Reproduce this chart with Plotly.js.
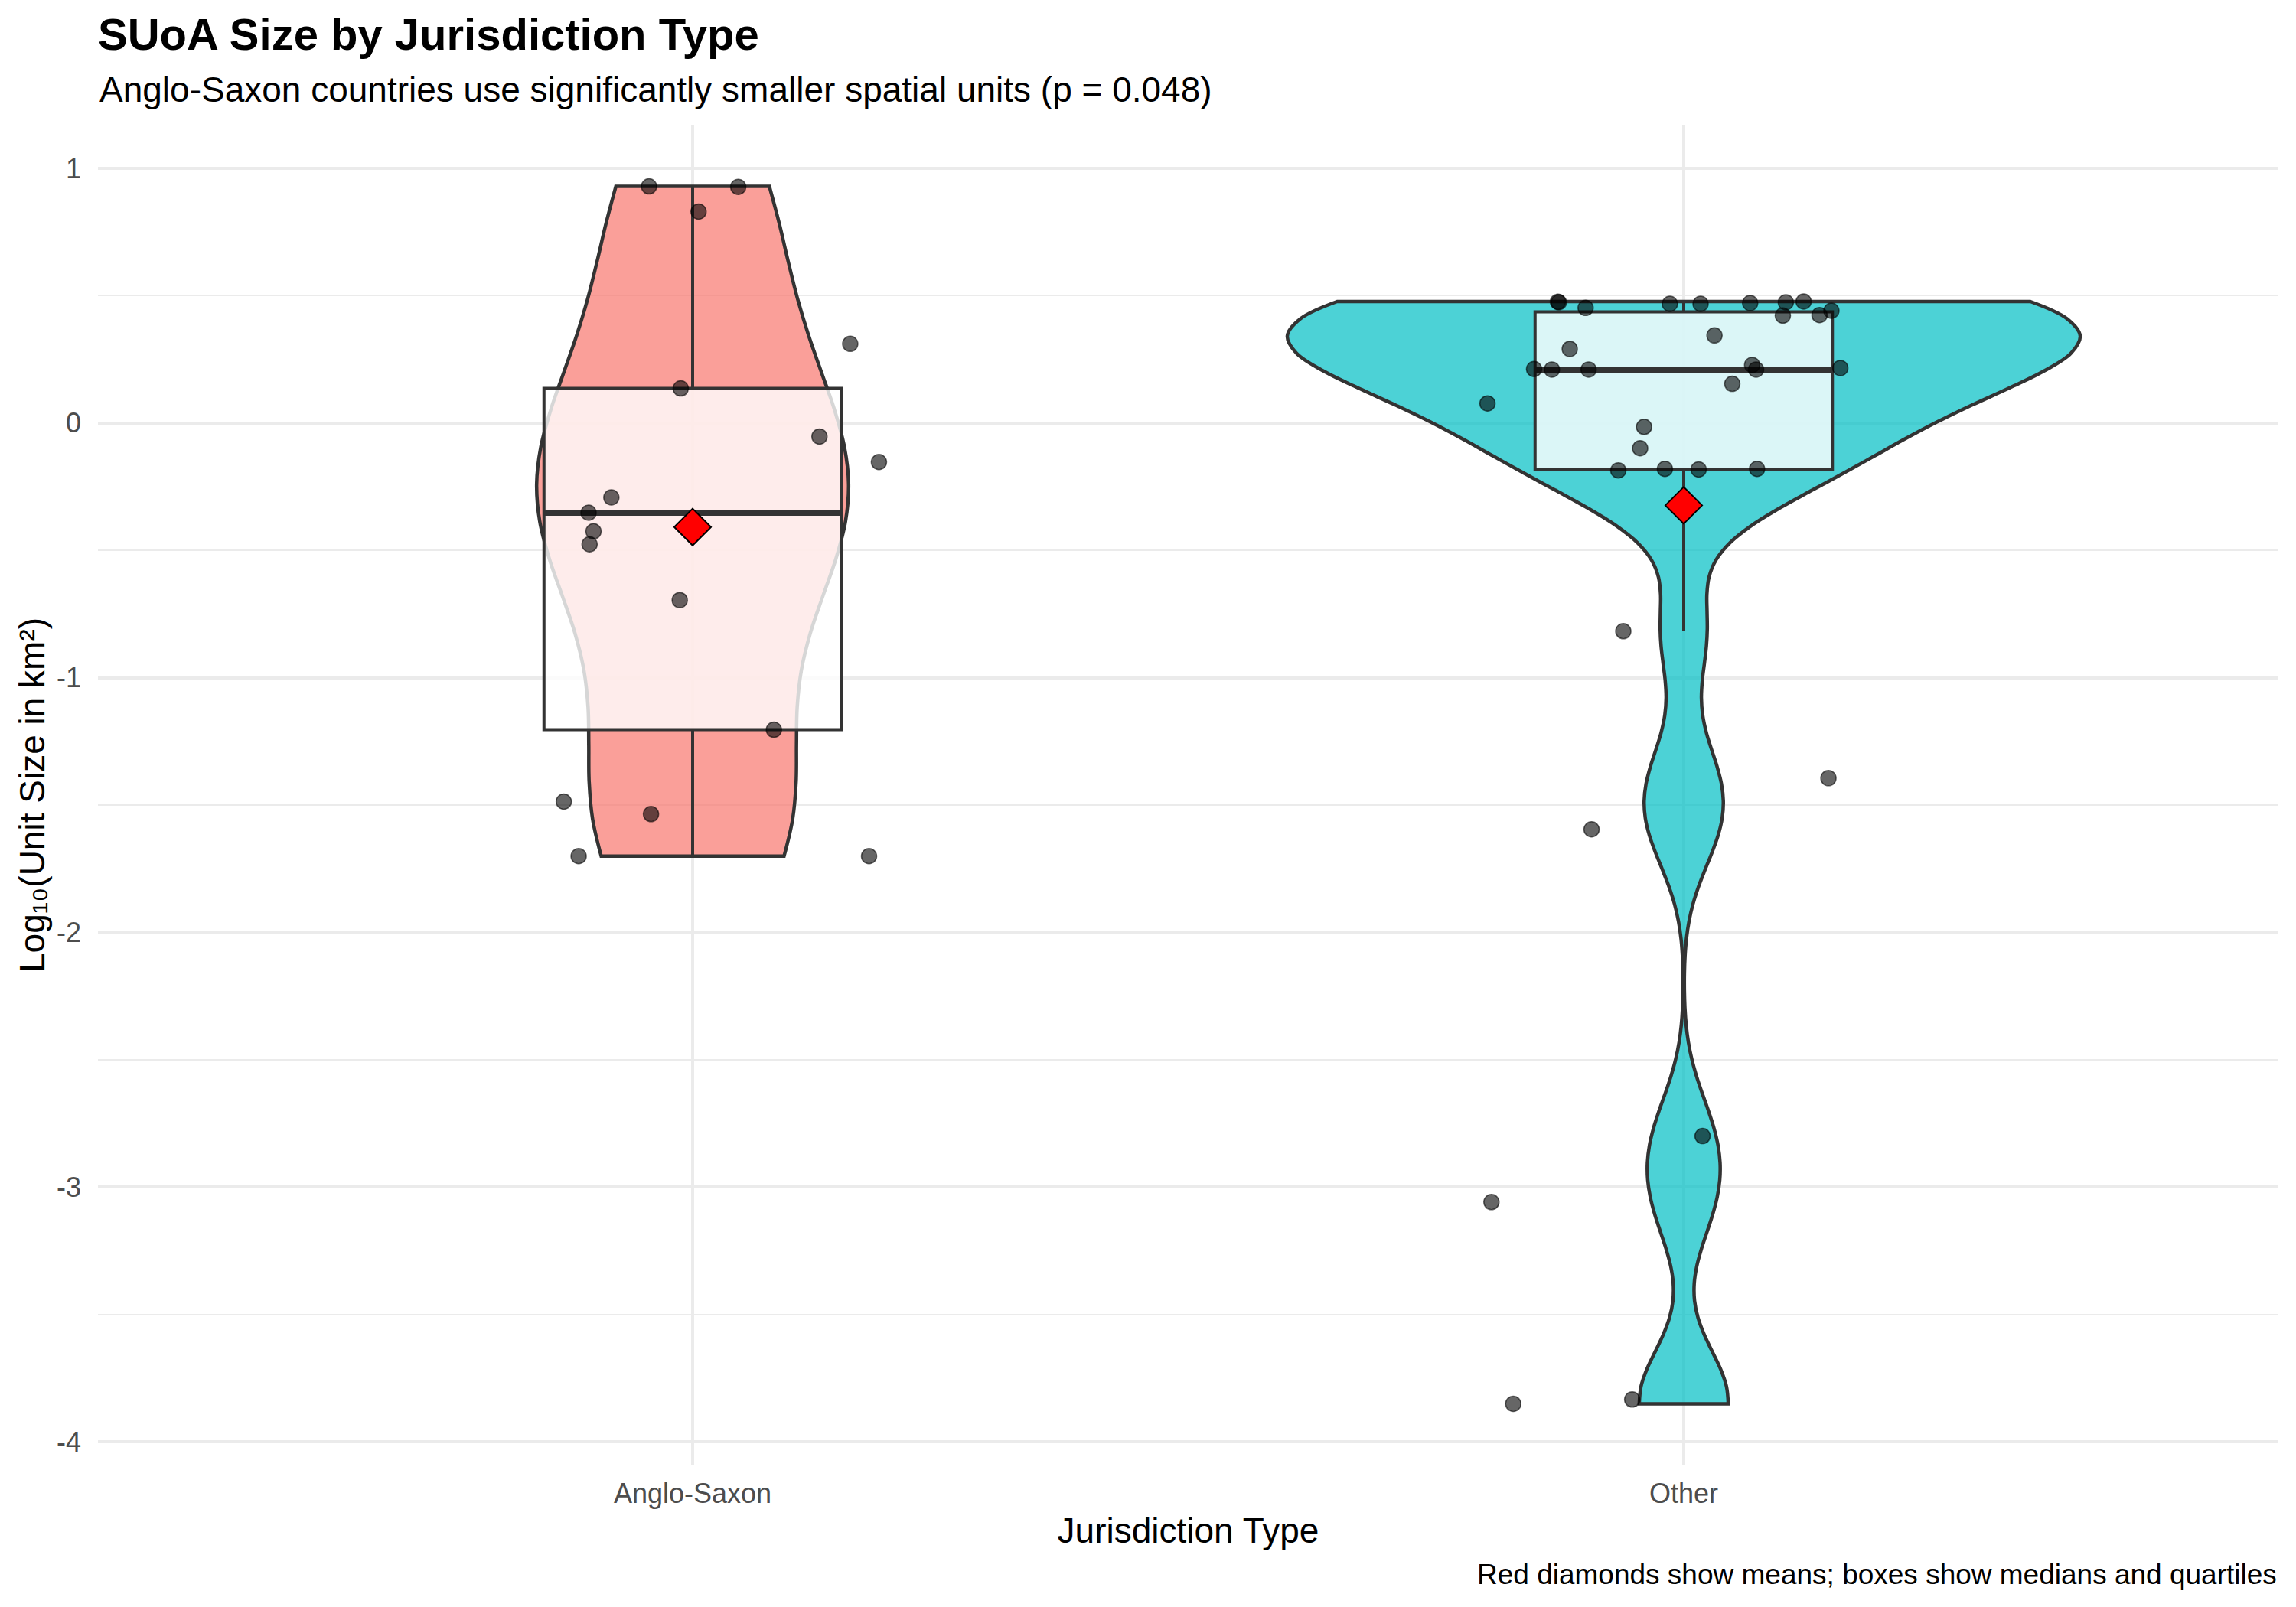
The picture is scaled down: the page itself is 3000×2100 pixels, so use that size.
<!DOCTYPE html>
<html>
<head>
<meta charset="utf-8">
<script src="https://cdn.plot.ly/plotly-3.0.1.min.js"></script>
<style>html,body{margin:0;padding:0;background:#fff;}#chart{width:3000px;height:2100px;}</style>
</head>
<body>
<div id="chart"></div>
<script>
// ---- Data ----
const categories = ['Anglo-Saxon', 'Other'];

// log10 unit sizes, Anglo-Saxon jurisdictions
const angloValues = [0.929, 0.927, 0.830, 0.311, 0.136, -0.053, -0.153, -0.292, -0.352,
  -0.425, -0.476, -0.695, -1.204, -1.486, -1.535, -1.700, -1.700];
// horizontal jitter of each Anglo-Saxon point (category units), as seen in the figure
const angloJitter = [-0.044, 0.046, 0.006, 0.159, -0.012, 0.128, 0.188, -0.082, -0.105,
  -0.100, -0.104, -0.013, 0.082, -0.130, -0.042, -0.115, 0.178];

// log10 unit sizes, other jurisdictions
const otherValues = [0.476, 0.474, 0.452, 0.468, 0.468, 0.471, 0.474, 0.477, 0.441, 0.422,
  0.424, 0.344, 0.291, 0.212, 0.210, 0.210, 0.228, 0.210, 0.216, 0.154, 0.077, -0.015,
  -0.099, -0.186, -0.180, -0.182, -0.180, -0.817, -1.394, -1.595, -2.799, -3.058, -3.850, -3.833];
// horizontal jitter of each Other point (category units)
const otherJitter = [-0.127, -0.126, -0.099, -0.014, 0.017, 0.067, 0.103, 0.121, 0.149, 0.100,
  0.137, 0.031, -0.115, -0.151, -0.133, -0.096, 0.069, 0.073, 0.158, 0.049, -0.198, -0.040,
  -0.044, -0.066, -0.019, 0.015, 0.074, -0.061, 0.146, -0.093, 0.019, -0.194, -0.172, -0.052];

const yTickValues = [-4, -3, -2, -1, 0, 1];

const groupColors = ['rgba(248,118,109,0.7)', 'rgba(0,191,196,0.7)'];

const titleText = 'SUoA Size by Jurisdiction Type';
const subtitleText = 'Anglo-Saxon countries use significantly smaller spatial units (p = 0.048)';
const captionText = 'Red diamonds show means; boxes show medians and quartiles';
const xTitle = 'Jurisdiction Type';
const yTitle = 'Log₁₀(Unit Size in km²)';

// ---- helpers ----
function quantile7(arr, p) {
  const s = arr.slice().sort((a, b) => a - b);
  const h = (s.length - 1) * p;
  const lo = Math.floor(h), hi = Math.ceil(h);
  return s[lo] + (h - lo) * (s[hi] - s[lo]);
}
function mean(a) { return a.reduce((s, v) => s + v, 0) / a.length; }
function sd(a) { const m = mean(a); return Math.sqrt(a.reduce((s, v) => s + (v - m) * (v - m), 0) / (a.length - 1)); }
function bwNrd0(a) {
  const iqr = quantile7(a, 0.75) - quantile7(a, 0.25);
  const lo = Math.min(sd(a), iqr / 1.34);
  return 0.9 * lo * Math.pow(a.length, -0.2);
}
function kdeMax(a, bw) {
  const lo = Math.min(...a), hi = Math.max(...a);
  let best = 0;
  for (let k = 0; k < 512; k++) {
    const x = lo + (hi - lo) * k / 511;
    let s = 0;
    a.forEach(v => { const u = (x - v) / bw; s += Math.exp(-0.5 * u * u); });
    s /= (a.length * bw * Math.sqrt(2 * Math.PI));
    if (s > best) best = s;
  }
  return best;
}
function boxStats(a) {
  const q1 = quantile7(a, 0.25), med = quantile7(a, 0.5), q3 = quantile7(a, 0.75);
  const iqr = q3 - q1;
  const lf = Math.min(...a.filter(v => v >= q1 - 1.5 * iqr));
  const uf = Math.max(...a.filter(v => v <= q3 + 1.5 * iqr));
  return {q1, med, q3, lf, uf};
}

const groups = [angloValues, otherValues];
const jitters = [angloJitter, otherJitter];
const positions = [1, 2];
const FONT = 'Liberation Sans, Arial, Helvetica, sans-serif';
const EDGE = '#333333';
const BOXW = 0.3;
const VIOLIN_W = 0.8;

// area scaling (as ggplot's scale = "area"): width proportional to each group's peak density
const bws = groups.map(bwNrd0);
const peaks = groups.map((g, i) => kdeMax(g, bws[i]));
const peakAll = Math.max(...peaks);

const traces = [];
// violins
groups.forEach((vals, i) => {
  traces.push({
    type: 'violin', x0: positions[i], y: vals, name: categories[i],
    width: VIOLIN_W * peaks[i] / peakAll, scalemode: 'width', spanmode: 'hard',
    bandwidth: bws[i], points: false,
    box: {visible: false}, meanline: {visible: false},
    fillcolor: groupColors[i], line: {color: EDGE, width: 4.5},
    hoverinfo: 'skip', showlegend: false
  });
});
// boxes
groups.forEach((vals, i) => {
  const st = boxStats(vals);
  traces.push({
    type: 'box', x: [positions[i]], q1: [st.q1], median: [st.med], q3: [st.q3],
    lowerfence: [st.lf], upperfence: [st.uf], width: BOXW, whiskerwidth: 0,
    boxpoints: false, fillcolor: 'rgba(255,255,255,0.8)',
    line: {color: EDGE, width: 4}, showlegend: false, hoverinfo: 'skip'
  });
});
// thicker median lines
groups.forEach((vals, i) => {
  const m = quantile7(vals, 0.5);
  traces.push({
    type: 'scatter', mode: 'lines',
    x: [positions[i] - BOXW / 2, positions[i] + BOXW / 2], y: [m, m],
    line: {color: EDGE, width: 8}, showlegend: false, hoverinfo: 'skip'
  });
});
// jittered points
groups.forEach((vals, i) => {
  traces.push({
    type: 'scatter', mode: 'markers',
    x: vals.map((v, k) => positions[i] + jitters[i][k]), y: vals,
    marker: {size: 20, color: 'rgba(0,0,0,0.6)', line: {color: 'rgba(0,0,0,0.6)', width: 1.5}},
    showlegend: false
  });
});
// means
traces.push({
  type: 'scatter', mode: 'markers', x: positions, y: groups.map(mean),
  marker: {symbol: 'diamond', size: 37, color: '#FF0000', line: {color: '#000000', width: 2}},
  showlegend: false
});

const allVals = angloValues.concat(otherValues);
const yMin = Math.min(...allVals), yMax = Math.max(...allVals);
const yPad = 0.05 * (yMax - yMin);

const layout = {
  width: 3000, height: 2100,
  margin: {l: 128, r: 23, t: 164, b: 186, pad: 0},
  paper_bgcolor: '#ffffff', plot_bgcolor: '#ffffff',
  font: {family: FONT, color: '#000000'},
  showlegend: false,
  title: {
    text: '<b>' + titleText + '</b>',
    font: {family: FONT, size: 58, color: '#000000'},
    xref: 'container', x: 128 / 3000, xanchor: 'left',
    yref: 'container', y: 1 - 44.7 / 2100, yanchor: 'middle'
  },
  xaxis: {
    range: [0.4, 2.6], tickvals: positions, ticktext: categories,
    showgrid: true, gridcolor: '#EBEBEB', gridwidth: 4,
    zeroline: false, showline: false, ticks: '', ticklabelstandoff: 13,
    tickfont: {family: FONT, size: 36, color: '#4D4D4D'},
    title: {text: xTitle, font: {family: FONT, size: 46, color: '#000000'}, standoff: 12}
  },
  yaxis: {
    range: [yMin - yPad, yMax + yPad],
    tickmode: 'array', tickvals: yTickValues, ticktext: yTickValues.map(v => String(v)),
    showgrid: true, gridcolor: '#EBEBEB', gridwidth: 4,
    minor: {dtick: 0.5, tick0: 0, showgrid: true, gridcolor: '#EBEBEB', gridwidth: 2},
    zeroline: false, showline: false, ticks: '', ticklabelstandoff: 21,
    tickfont: {family: FONT, size: 36, color: '#4D4D4D'},
    title: {text: yTitle, font: {family: FONT, size: 46, color: '#000000'}, standoff: 0}
  },
  annotations: [
    {text: subtitleText, xref: 'paper', yref: 'paper', x: 0, xanchor: 'left',
     y: (1914 - 117) / 1750, yanchor: 'middle', showarrow: false,
     font: {family: FONT, size: 46, color: '#000000'}},
    {text: captionText, xref: 'paper', yref: 'paper', x: 1, xanchor: 'right',
     y: (1914 - 2057) / 1750, yanchor: 'middle', showarrow: false,
     font: {family: FONT, size: 37, color: '#000000'}}
  ]
};

Plotly.newPlot('chart', traces, layout, {displayModeBar: false, staticPlot: true});
</script>
</body>
</html>
